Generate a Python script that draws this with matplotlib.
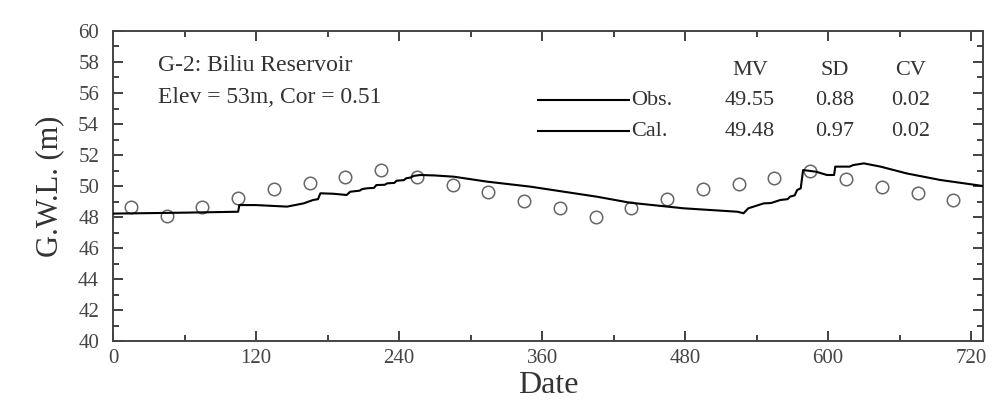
import matplotlib
matplotlib.use("Agg")
import matplotlib.pyplot as plt
from matplotlib.ticker import MultipleLocator

plt.rcParams['font.family'] = ['Liberation Serif', 'DejaVu Serif']

# observed groundwater level (monthly, circles)
obs_day = [15, 45, 75, 105, 135, 165, 195, 225, 255, 285, 315, 345,
           375, 405, 435, 465, 495, 525, 555, 585, 615, 645, 675, 705]
obs_gwl = [48.63, 48.06, 48.66, 49.21, 49.79, 50.17, 50.60, 51.03, 50.56, 50.08, 49.61, 49.05,
           48.56, 48.02, 48.56, 49.16, 49.81, 50.13, 50.54, 50.99, 50.45, 49.92, 49.53, 49.10]

# calculated groundwater level (line)
cal_day = [0, 60, 105, 106, 120, 146, 160, 168, 172, 174, 185, 196, 199, 207, 209,
           213, 219, 221, 228, 230, 236, 238, 244, 246, 250, 252, 258, 270, 286, 314,
           350, 406, 434, 479, 524, 529, 533, 546, 552, 560, 566, 568, 572, 574, 577,
           579, 590, 599, 605, 606, 618, 621, 630, 644, 666, 694, 730]
cal_gwl = [48.22, 48.28, 48.34, 48.77, 48.77, 48.67, 48.88, 49.10, 49.15, 49.53, 49.50, 49.42, 49.63, 49.70, 49.80,
           49.85, 49.88, 50.06, 50.08, 50.17, 50.20, 50.34, 50.38, 50.50, 50.55, 50.65, 50.71, 50.68, 50.60, 50.28,
           49.96, 49.31, 48.92, 48.56, 48.34, 48.24, 48.56, 48.88, 48.90, 49.10, 49.15, 49.31, 49.40, 49.74, 49.85,
           51.03, 50.92, 50.71, 50.71, 51.25, 51.25, 51.35, 51.46, 51.25, 50.81, 50.39, 50.00]

stat_cols = ['MV', 'SD', 'CV']
obs_stats = ['49.55', '0.88', '0.02']
cal_stats = ['49.48', '0.97', '0.02']

fig = plt.figure(figsize=(9.92, 4.01), dpi=100)
ax = fig.add_axes([0.1139, 0.1496, 0.8771, 0.7731])

ax.plot(cal_day, cal_gwl, color='black', lw=1.5, zorder=3)
ax.plot(obs_day, obs_gwl, ls='none', marker='o', ms=9, mfc='none',
        mec='#666666', mew=1.1, zorder=2)

ax.set_xlim(0, 730)
ax.set_ylim(40, 60)
ax.xaxis.set_major_locator(MultipleLocator(120))
ax.xaxis.set_minor_locator(MultipleLocator(60))
ax.yaxis.set_major_locator(MultipleLocator(2))
ax.yaxis.set_minor_locator(MultipleLocator(1))
ax.tick_params(which='both', direction='in', top=True, right=True,
               colors='#333333', width=1.3)
ax.tick_params(which='major', length=7)
ax.tick_params(which='minor', length=4)
ax.tick_params(axis='y', which='major', labelsize=15, pad=10, labelcolor='#444444')
ax.tick_params(axis='x', which='major', labelsize=15, pad=6, labelcolor='#444444')
for sp in ax.spines.values():
    sp.set_linewidth(1.4)
    sp.set_color('#444444')

ax.set_xlabel('Date', fontsize=23, color='#333333', labelpad=2)
ax.set_ylabel('G.W.L. (m)', fontsize=22, color='#333333', labelpad=10)

# station info
ax.text(0.052, 0.89, 'G-2: Biliu Reservoir', transform=ax.transAxes,
        fontsize=17, color='#333333', va='center')
ax.text(0.052, 0.787, 'Elev = 53m, Cor = 0.51', transform=ax.transAxes,
        fontsize=17, color='#333333', va='center')

# statistics table with legend lines
col_x = [0.732, 0.829, 0.917]
row_y = [0.874, 0.777, 0.677]
for cx, name in zip(col_x, stat_cols):
    ax.text(cx, row_y[0], name, transform=ax.transAxes, fontsize=16,
            color='#333333', ha='center', va='center')
for ry, label, vals in [(row_y[1], 'Obs.', obs_stats), (row_y[2], 'Cal.', cal_stats)]:
    ax.plot([0.489, 0.593], [ry, ry], transform=ax.transAxes, color='black', lw=1.5)
    ax.text(0.595, ry, label, transform=ax.transAxes, fontsize=16,
            color='#333333', va='center')
    for cx, v in zip(col_x, vals):
        ax.text(cx, ry, v, transform=ax.transAxes, fontsize=16,
                color='#333333', ha='center', va='center')

fig.savefig('out.png', dpi=100)
